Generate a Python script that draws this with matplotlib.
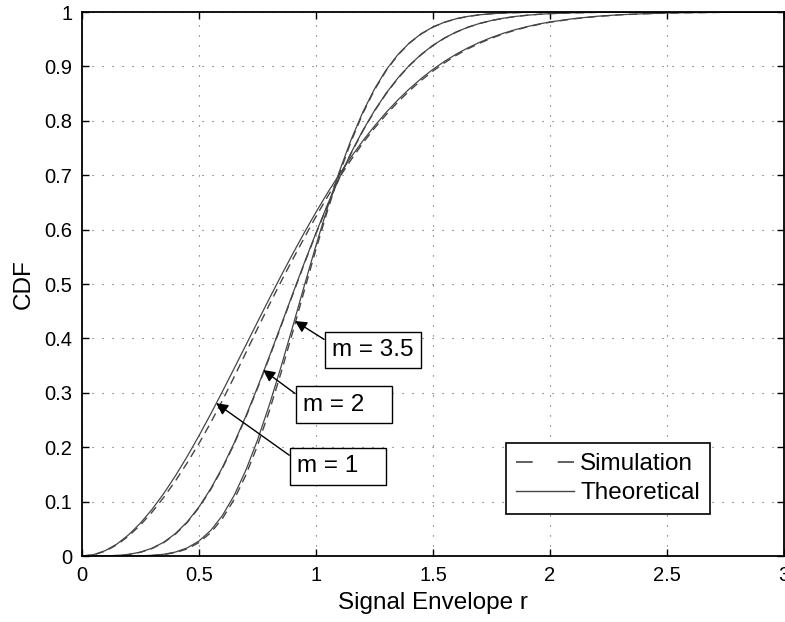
import matplotlib
matplotlib.use('Agg')
import matplotlib.pyplot as plt
from matplotlib.lines import Line2D

plt.rcParams['font.family'] = ['Liberation Sans', 'DejaVu Sans']

# signal envelope r (x grid)
r = [0, .05, .1, .15, .2, .25, .3, .35, .4, .45, .5, .55, .6, .65, .7, .75, .8, .85, .9, .95,
     1.0, 1.05, 1.1, 1.15, 1.2, 1.25, 1.3, 1.35, 1.4, 1.45, 1.5, 1.55, 1.6, 1.65, 1.7, 1.75,
     1.8, 1.85, 1.9, 1.95, 2.0, 2.1, 2.2, 2.3, 2.4, 2.5, 2.6, 2.8, 3.0]

# theoretical CDF curves
theory_m1 = [0, .0025, .0100, .0222, .0392, .0606, .0861, .1153, .1479, .1833, .2212, .2610,
             .3023, .3447, .3874, .4302, .4727, .5145, .5551, .5944, .6321, .6680, .7018, .7335,
             .7631, .7904, .8155, .8384, .8591, .8779, .8946, .9095, .9227, .9343, .9444, .9532,
             .9608, .9674, .9729, .9777, .9817, .9878, .9921, .9950, .9968, .9981, .9988, .9996, .9999]
theory_m2 = [0, 0, .0002, .0010, .0030, .0072, .0144, .0255, .0415, .0629, .0902, .1236,
             .1628, .2075, .2569, .3101, .3661, .4236, .4815, .5387, .5940, .6466, .6959, .7412,
             .7822, .8188, .8509, .8787, .9024, .9223, .9389, .9525, .9634, .9722, .9791, .9844,
             .9885, .9917, .9940, .9957, .9970, .9985, .9993, .9997, .9999, 1, 1, 1, 1]
theory_m35 = [0, 0, 0, 0, .0001, .0004, .0012, .0032, .0073, .0150, .0276, .0469,
              .0744, .1111, .1574, .2131, .2769, .3470, .4211, .4969, .5711, .6418, .7070, .7653,
              .8159, .8586, .8937, .9217, .9436, .9602, .9725, .9814, .9877, .9920, .9949, .9968,
              .9981, .9988, .9993, .9996, .9998, .9999, 1, 1, 1, 1, 1, 1, 1]

# simulated CDF curves
sim_m1 = [0, .0021, .0090, .0208, .0370, .0572, .0810, .1082, .1385, .1716, .2070, .2450,
          .2860, .3290, .3735, .4180, .4615, .5040, .5450, .5850, .6240, .6610, .6960, .7285,
          .7590, .7865, .8115, .8345, .8555, .8745, .8915, .9068, .9205, .9325, .9428, .9518,
          .9597, .9664, .9722, .9770, .9812, .9874, .9918, .9948, .9967, .9980, .9988, .9996, .9999]
sim_m2 = [0, 0, .0002, .0009, .0028, .0068, .0138, .0248, .0405, .0618, .0890, .1222,
          .1612, .2058, .2550, .3082, .3642, .4218, .4798, .5372, .5926, .6454, .6948, .7402,
          .7812, .8178, .8500, .8779, .9018, .9217, .9384, .9521, .9631, .9720, .9789, .9843,
          .9884, .9916, .9939, .9957, .9970, .9985, .9993, .9997, .9999, 1, 1, 1, 1]
sim_m35 = [0, 0, 0, 0, .0001, .0003, .0010, .0027, .0063, .0132, .0248, .0428,
           .0688, .1038, .1485, .2030, .2660, .3360, .4110, .4880, .5640, .6360, .7025, .7620,
           .8135, .8568, .8925, .9208, .9430, .9598, .9722, .9812, .9876, .9919, .9949, .9968,
           .9981, .9988, .9993, .9996, .9998, .9999, 1, 1, 1, 1, 1, 1, 1]

labels = ['m = 1', 'm = 2', 'm = 3.5']
arrow_tips = [(0.573, 0.281), (0.774, 0.342), (0.910, 0.432)]
text_pos = [(0.919, 0.165), (0.944, 0.278), (1.068, 0.379)]

xticks = [0, 0.5, 1, 1.5, 2, 2.5, 3]
yticks = [0, .1, .2, .3, .4, .5, .6, .7, .8, .9, 1]

line_col = '#454545'

fig = plt.figure(figsize=(7.85, 6.22), dpi=100)
ax = fig.add_axes([82 / 785, 66 / 622, 702 / 785, 544 / 622])

for th, sm in [(theory_m1, sim_m1), (theory_m2, sim_m2), (theory_m35, sim_m35)]:
    ax.plot(r, sm, color=line_col, lw=1.0, ls=(0, (6, 4)))
    ax.plot(r, th, color=line_col, lw=0.9)

ax.set_xlim(0, 3)
ax.set_ylim(0, 1)
ax.set_xticks(xticks)
ax.set_yticks(yticks)
ax.set_xticklabels(['%g' % t for t in xticks])
ax.set_yticklabels(['%g' % t for t in yticks])
ax.tick_params(direction='in', length=5, width=1, top=True, right=True,
               labelsize=14.5, pad=7)
for s in ax.spines.values():
    s.set_linewidth(1.3)
ax.grid(True, color='0.35', ls=(0, (1, 8)), lw=0.8)

ax.set_xlabel('Signal Envelope r', fontsize=17.5, labelpad=5)
ax.set_ylabel('CDF', fontsize=17.5, labelpad=7)

for lab, tip, pos in zip(labels, arrow_tips, text_pos):
    txt = lab if lab == 'm = 3.5' else lab + '   '
    ax.annotate(txt, xy=tip, xytext=pos, fontsize=17.5, ha='left', va='center',
                bbox=dict(boxstyle='square,pad=0.3', fc='white', ec='black', lw=1),
                arrowprops=dict(arrowstyle='-|>', color='black', lw=1,
                                relpos=(0, 0.75), shrinkA=0, shrinkB=0))

handles = [Line2D([], [], color=line_col, lw=1.2, ls=(0, (10, 15))),
           Line2D([], [], color=line_col, lw=1.0)]
leg = ax.legend(handles, ['Simulation', 'Theoretical'], loc='lower left',
                bbox_to_anchor=(0.604, 0.077), borderaxespad=0, fontsize=17.5,
                handlelength=2.4, handletextpad=0.25, labelspacing=0.3,
                borderpad=0.4, fancybox=False, framealpha=1, edgecolor='black')
leg.get_frame().set_linewidth(1.2)

fig.savefig('out.png', dpi=100, facecolor='white')
